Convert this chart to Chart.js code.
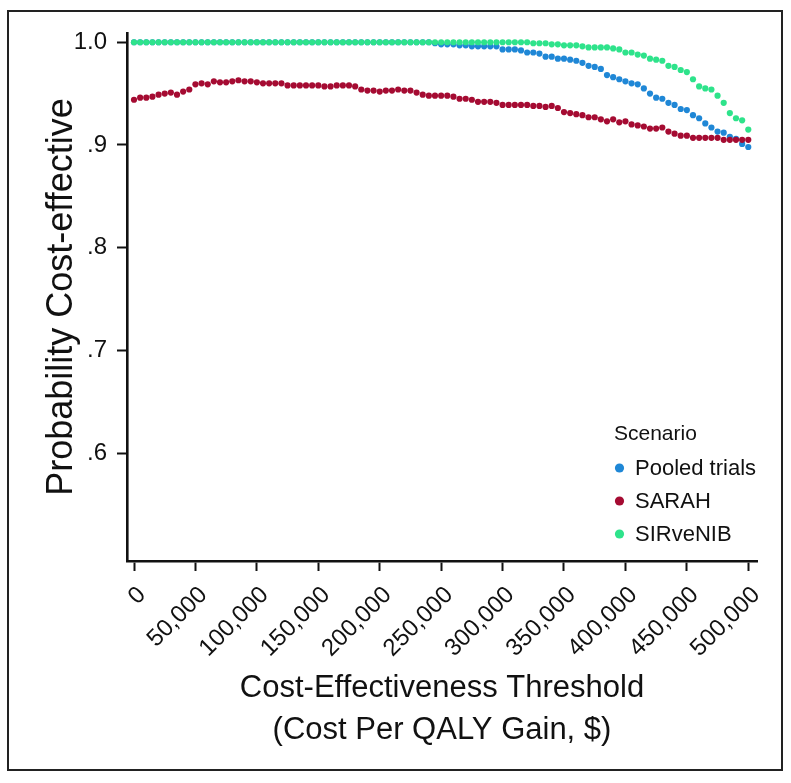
<!DOCTYPE html>
<html>
<head>
<meta charset="utf-8">
<script src="https://cdn.jsdelivr.net/npm/chart.js@4.4.1/dist/chart.umd.min.js"></script>
<style>
  html, body { margin: 0; padding: 0; background: #ffffff; }
  #wrap { position: relative; width: 791px; height: 783px; }
  #frame { position: absolute; left: 7px; top: 10px; width: 772px; height: 757px; border: 2px solid #222; box-sizing: content-box; pointer-events: none; }
  canvas { position: absolute; left: 0; top: 0; }
</style>
</head>
<body>
<div id="wrap">
  <canvas id="c" width="791" height="783"></canvas>
  <div id="frame"></div>
</div>
<script>
// Cost-effectiveness thresholds ($ per QALY gained)
const thresholds = [
  0, 5000, 10000, 15000, 20000, 25000, 30000, 35000, 40000, 45000,
  50000, 55000, 60000, 65000, 70000, 75000, 80000, 85000, 90000, 95000,
  100000, 105000, 110000, 115000, 120000, 125000, 130000, 135000, 140000, 145000,
  150000, 155000, 160000, 165000, 170000, 175000, 180000, 185000, 190000, 195000,
  200000, 205000, 210000, 215000, 220000, 225000, 230000, 235000, 240000, 245000,
  250000, 255000, 260000, 265000, 270000, 275000, 280000, 285000, 290000, 295000,
  300000, 305000, 310000, 315000, 320000, 325000, 330000, 335000, 340000, 345000,
  350000, 355000, 360000, 365000, 370000, 375000, 380000, 385000, 390000, 395000,
  400000, 405000, 410000, 415000, 420000, 425000, 430000, 435000, 440000, 445000,
  450000, 455000, 460000, 465000, 470000, 475000, 480000, 485000, 490000, 495000,
  500000
];

const pooledTrials = [
  1.000, 1.000, 1.000, 1.000, 1.000, 1.000, 1.000, 1.000, 1.000, 1.000,
  1.000, 1.000, 1.000, 1.000, 1.000, 1.000, 1.000, 1.000, 1.000, 1.000,
  1.000, 1.000, 1.000, 1.000, 1.000, 1.000, 1.000, 1.000, 1.000, 1.000,
  1.000, 1.000, 1.000, 1.000, 1.000, 1.000, 1.000, 1.000, 1.000, 1.000,
  1.000, 1.000, 1.000, 1.000, 1.000, 1.000, 1.000, 1.000, 1.000, 0.999,
  0.998, 0.998, 0.998, 0.997, 0.997, 0.996, 0.996, 0.996, 0.996, 0.996,
  0.993, 0.993, 0.993, 0.992, 0.990, 0.990, 0.989, 0.986, 0.986, 0.984,
  0.984, 0.983, 0.982, 0.980, 0.977, 0.976, 0.974, 0.968, 0.966, 0.964,
  0.962, 0.960, 0.959, 0.955, 0.950, 0.946, 0.945, 0.941, 0.939, 0.935,
  0.934, 0.929, 0.926, 0.921, 0.917, 0.913, 0.912, 0.908, 0.906, 0.901,
  0.898
];

const sarah = [
  0.944, 0.946, 0.946, 0.947, 0.949, 0.950, 0.951, 0.949, 0.952, 0.954,
  0.959, 0.960, 0.959, 0.962, 0.961, 0.961, 0.962, 0.963, 0.962, 0.962,
  0.961, 0.960, 0.960, 0.960, 0.960, 0.958, 0.958, 0.958, 0.958, 0.958,
  0.958, 0.957, 0.957, 0.958, 0.958, 0.958, 0.957, 0.954, 0.953, 0.953,
  0.952, 0.953, 0.953, 0.954, 0.953, 0.953, 0.951, 0.949, 0.948, 0.948,
  0.948, 0.948, 0.947, 0.945, 0.945, 0.944, 0.942, 0.942, 0.942, 0.941,
  0.939, 0.939, 0.939, 0.939, 0.939, 0.938, 0.938, 0.937, 0.938, 0.936,
  0.932, 0.931, 0.930, 0.929, 0.927, 0.927, 0.925, 0.923, 0.925, 0.922,
  0.923, 0.920, 0.919, 0.918, 0.916, 0.916, 0.917, 0.913, 0.911, 0.909,
  0.909, 0.907, 0.907, 0.907, 0.907, 0.907, 0.905, 0.905, 0.905, 0.905,
  0.905
];

const sirveNIB = [
  1.000, 1.000, 1.000, 1.000, 1.000, 1.000, 1.000, 1.000, 1.000, 1.000,
  1.000, 1.000, 1.000, 1.000, 1.000, 1.000, 1.000, 1.000, 1.000, 1.000,
  1.000, 1.000, 1.000, 1.000, 1.000, 1.000, 1.000, 1.000, 1.000, 1.000,
  1.000, 1.000, 1.000, 1.000, 1.000, 1.000, 1.000, 1.000, 1.000, 1.000,
  1.000, 1.000, 1.000, 1.000, 1.000, 1.000, 1.000, 1.000, 1.000, 1.000,
  1.000, 1.000, 1.000, 1.000, 1.000, 1.000, 1.000, 1.000, 1.000, 1.000,
  1.000, 1.000, 1.000, 1.000, 1.000, 0.999, 0.999, 0.999, 0.998, 0.998,
  0.997, 0.997, 0.997, 0.996, 0.995, 0.995, 0.995, 0.995, 0.994, 0.993,
  0.990, 0.990, 0.988, 0.987, 0.984, 0.983, 0.982, 0.977, 0.976, 0.973,
  0.971, 0.964, 0.957, 0.955, 0.954, 0.948, 0.941, 0.931, 0.926, 0.924,
  0.915
];

const seriesNames = ['Pooled trials', 'SARAH', 'SIRveNIB'];
const seriesColors = ['#1f87d6', '#a50b32', '#2ee38b'];
const legendTitle = 'Scenario';

const xTicks = [0, 50000, 100000, 150000, 200000, 250000, 300000, 350000, 400000, 450000, 500000];
const xTickLabels = ['0', '50,000', '100,000', '150,000', '200,000', '250,000', '300,000', '350,000', '400,000', '450,000', '500,000'];
const yTicks = [0.6, 0.7, 0.8, 0.9, 1.0];
const yTickLabels = ['.6', '.7', '.8', '.9', '1.0'];

const xTitle = ['Cost-Effectiveness Threshold', '(Cost Per QALY Gain, $)'];
const yTitle = 'Probability Cost-effective';

function toPoints(values) {
  return thresholds.map((t, i) => ({ x: t, y: values[i] }));
}

const FONT = '"Liberation Sans", Arial, Helvetica, sans-serif';
const INK = '#111111';

const legendPlugin = {
  id: 'insideLegend',
  afterDraw(chart) {
    const ctx = chart.ctx;
    ctx.save();
    ctx.textBaseline = 'middle';
    ctx.textAlign = 'left';
    ctx.fillStyle = INK;
    ctx.font = '21px ' + FONT;
    ctx.fillText(legendTitle, 614, 434);
    const rows = [468, 501, 534];
    ctx.font = '22px ' + FONT;
    chart.data.datasets.forEach((ds, i) => {
      ctx.beginPath();
      ctx.fillStyle = ds.backgroundColor;
      ctx.arc(619.5, rows[i], 4.6, 0, Math.PI * 2);
      ctx.fill();
      ctx.fillStyle = INK;
      ctx.fillText(ds.label, 635, rows[i] + 1);
    });
    ctx.restore();
  }
};

new Chart(document.getElementById('c'), {
  type: 'scatter',
  data: {
    datasets: seriesNames.map((name, i) => ({
      label: name,
      data: toPoints([pooledTrials, sarah, sirveNIB][i]),
      backgroundColor: seriesColors[i],
      borderColor: seriesColors[i],
      borderWidth: 0,
      pointRadius: 3.1,
      pointHoverRadius: 3.1,
      showLine: false,
      order: 3 - i
    }))
  },
  options: {
    responsive: false,
    animation: false,
    devicePixelRatio: 1,
    layout: { padding: { top: 33, right: 34, bottom: 0, left: 0 } },
    plugins: {
      legend: { display: false },
      tooltip: { enabled: false }
    },
    scales: {
      x: {
        type: 'linear',
        min: -5700,
        max: 507100,
        afterFit(scale) { scale.height = 222; },
        afterBuildTicks(scale) { scale.ticks = xTicks.map(v => ({ value: v })); },
        border: { display: true, color: INK, width: 2.6 },
        grid: { display: true, drawOnChartArea: false, drawTicks: true, tickLength: 10, tickWidth: 2, tickColor: INK },
        ticks: {
          autoSkip: false,
          minRotation: 45,
          maxRotation: 45,
          padding: 10,
          labelOffset: 8,
          color: INK,
          font: { family: FONT, size: 24 },
          callback: (v, i) => xTickLabels[i]
        },
        title: {
          display: true,
          text: xTitle,
          color: INK,
          font: { family: FONT, size: 31, lineHeight: 1.355 },
          padding: { top: 0, bottom: 31.6 }
        }
      },
      y: {
        type: 'linear',
        min: 0.495,
        max: 1.009,
        afterFit(scale) { scale.width = 127; },
        afterBuildTicks(scale) { scale.ticks = yTicks.map(v => ({ value: v })); },
        border: { display: true, color: INK, width: 2.6 },
        grid: { display: true, drawOnChartArea: false, drawTicks: true, tickLength: 10, tickWidth: 2, tickColor: INK },
        ticks: {
          padding: 10,
          color: INK,
          font: { family: FONT, size: 24 },
          callback: (v, i) => yTickLabels[i]
        },
        title: {
          display: true,
          text: yTitle,
          color: INK,
          font: { family: FONT, size: 36 },
          padding: { top: 40, bottom: 0 }
        }
      }
    }
  },
  plugins: [legendPlugin]
});
</script>
</body>
</html>
